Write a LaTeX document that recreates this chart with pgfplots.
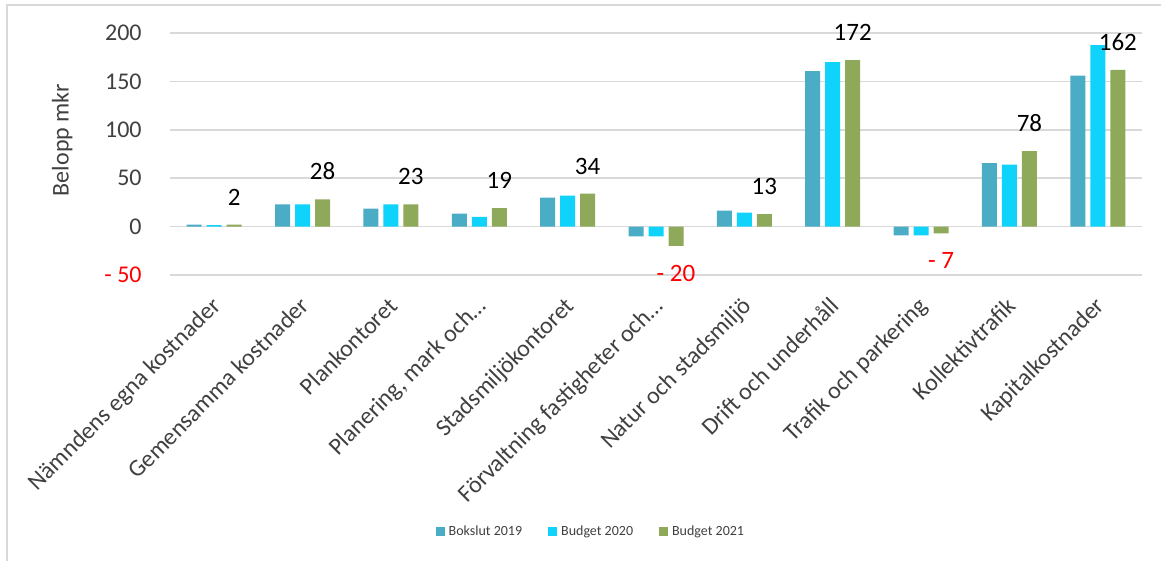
\documentclass[border=0pt]{standalone}
\usepackage{pgfplots}
\pgfplotsset{compat=1.18}
\usepackage{fontspec}
\setmainfont{Carlito}
\definecolor{cA}{HTML}{4BACC6}
\definecolor{cB}{HTML}{0FD3FB}
\definecolor{cC}{HTML}{8EA95A}
\definecolor{gridc}{HTML}{D9D9D9}
\definecolor{txt}{HTML}{404040}
\newcommand{\neglab}[1]{\smash{\raisebox{-27.5pt}{\textcolor{red}{#1}}}}
\begin{document}
\begin{tikzpicture}
\useasboundingbox (0,0) rectangle (580.5pt,280.5pt);
\draw[gridc, line width=0.9pt] (3.5pt,0) -- (3.5pt,278pt) -- (580.5pt,278pt);
\begin{axis}[
  at={(85pt,143pt)}, anchor=south west,
  scale only axis, width=486pt, height=121pt,
  xmin=-0.5, xmax=10.5, ymin=-50, ymax=200,
  ybar=2.5pt, bar width=7.5pt,
  axis line style={draw=none},
  major tick length=0pt,
  ymajorgrids, xmajorgrids=false, grid style={draw=gridc, line width=0.75pt},
  ytick={-50,0,50,100,150,200},
  yticklabels={\textcolor{red}{- 50},0,50,100,150,200},
  yticklabel style={anchor=east, inner sep=0pt, xshift=-14pt, font=\fontsize{12}{14}\selectfont, text=txt},
  xtick={0,...,10},
  xticklabels={Nämndens egna kostnader,Gemensamma kostnader,Plankontoret,{Planering, mark och\dots},Stadsmiljökontoret,Förvaltning fastigheter och\dots,Natur och stadsmiljö,Drift och underhåll,Trafik och parkering,Kollektivtrafik,Kapitalkostnader},
  xticklabel style={xshift=-2pt, yshift=-10pt, rotate=45, anchor=north east, inner sep=0pt, font=\fontsize{12}{14}\selectfont, text=txt},
  ylabel={Belopp mkr},
  every axis y label/.style={at={(axis description cs:-0.111,0.558)}, rotate=90, anchor=center, font=\fontsize{12}{14}\selectfont, text=txt},
  legend columns=3,
  legend style={at={(axis description cs:0.434,-1.062)}, anchor=center, draw=none, fill=none,
    font=\fontsize{7}{8}\selectfont, text=txt,
    /tikz/every even column/.append style={column sep=11pt},
    /tikz/every odd column/.append style={column sep=0pt}},
  legend cell align=left,
]
\pgfplotsset{sq/.style={legend image code/.code={\fill[##1] (0pt,-2.25pt) rectangle (4.5pt,2.25pt);}}}
\addplot[fill=cA, draw=none, sq] coordinates {
(0,2) (1,23) (2,18.5) (3,13.5) (4,30) (5,-10) (6,16.5) (7,160.5) (8,-9) (9,65.5) (10,156)};
\addlegendentry{Bokslut 2019}
\addplot[fill=cB, draw=none, sq] coordinates {
(0,1.5) (1,23) (2,23) (3,10) (4,32) (5,-10) (6,14.5) (7,170) (8,-9) (9,64) (10,187.5)};
\addlegendentry{Budget 2020}
\addplot[fill=cC, draw=none, sq,
  point meta=explicit symbolic,
  nodes near coords,
  every node near coord/.append style={anchor=south, font=\fontsize{12.5}{14}\selectfont, text=black, inner xsep=0pt, inner ysep=9.5pt}] coordinates {
(0,2) [2] (1,28) [28] (2,23) [23] (3,19) [19] (4,34) [34] (5,-20) [\neglab{- 20}] (6,13) [13] (7,172) [172] (8,-7) [\neglab{- 7}] (9,78) [78] (10,162) [162]};
\addlegendentry{Budget 2021}
\end{axis}
\end{tikzpicture}
\end{document}
